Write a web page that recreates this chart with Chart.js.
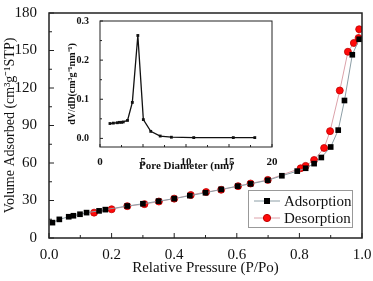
<!DOCTYPE html>
<html>
<head>
<meta charset="utf-8">
<script src="https://cdn.jsdelivr.net/npm/chart.js@4.4.1/dist/chart.umd.min.js"></script>
<style>
html, body { margin: 0; padding: 0; background: #fff; }
#wrap { position: relative; width: 373px; height: 281px; }
#main { position: absolute; left: 0; top: 0; }
#inset { position: absolute; left: 62px; top: 12px; }
</style>
</head>
<body>
<div id="wrap">
  <canvas id="main" width="373" height="281"></canvas>
  <canvas id="inset" width="218" height="165"></canvas>
</div>
<script>
// Isoterma de adsorción
const adsP = [0.011, 0.033, 0.063, 0.078, 0.099, 0.12, 0.16, 0.18, 0.25, 0.30, 0.35, 0.40, 0.45, 0.50, 0.55, 0.603, 0.644, 0.699, 0.744, 0.793, 0.82, 0.847, 0.87, 0.90, 0.924, 0.944, 0.969, 0.991];
const adsV = [12.3, 14.9, 17.0, 17.8, 19.0, 20.3, 21.7, 22.7, 25.6, 27.4, 29.5, 31.5, 33.9, 36.2, 38.9, 41.5, 43.3, 46.2, 49.8, 53.5, 55.8, 59.5, 64.4, 72.8, 86.3, 110, 146.6, 159];
// Isoterma de desorción
const desP = [0.991, 0.989, 0.974, 0.955, 0.929, 0.898, 0.879, 0.847, 0.82, 0.804, 0.699, 0.644, 0.604, 0.55, 0.502, 0.453, 0.40, 0.351, 0.305, 0.25, 0.20, 0.144];
const desV = [167, 160, 156, 149, 118, 85.5, 72, 62.4, 57.7, 55.8, 46.5, 43.6, 41.5, 38.6, 36.8, 34.4, 31.5, 29.2, 27.1, 25.5, 23.0, 20.3];
// Distribución de tamaño de poro (gráfica interior)
const poreD = [1.16, 1.55, 2.0, 2.25, 2.5, 2.7, 3.2, 3.76, 4.4, 5.04, 5.9, 7.0, 8.3, 10.9, 15.5, 18.0];
const poreDV = [0.038, 0.039, 0.040, 0.041, 0.041, 0.042, 0.046, 0.092, 0.263, 0.048, 0.018, 0.006, 0.003, 0.002, 0.002, 0.002];

const serif = "'Liberation Serif', 'Times New Roman', serif";

function toXY(xs, ys) {
    return xs.map((x, i) => ({ x: x, y: ys[i] }));
}

// Marco y marcas hacia dentro
const frameTicks = {
    id: 'frameTicks',
    afterDraw(chart, args, opts) {
        const ctx = chart.ctx;
        const a = chart.chartArea;
        const xs = chart.scales.x, ys = chart.scales.y;
        ctx.save();
        ctx.strokeStyle = '#222';
        ctx.lineWidth = opts.lw;
        ctx.strokeRect(a.left, a.top, a.right - a.left, a.bottom - a.top);
        ctx.lineWidth = 1;
        ctx.beginPath();
        xs.ticks.forEach((t, i) => {
            const px = xs.getPixelForValue(t.value);
            ctx.moveTo(px, a.bottom); ctx.lineTo(px, a.bottom - opts.major);
            if (i < xs.ticks.length - 1) {
                const m = xs.getPixelForValue((t.value + xs.ticks[i + 1].value) / 2);
                ctx.moveTo(m, a.bottom); ctx.lineTo(m, a.bottom - opts.minor);
            }
        });
        ys.ticks.forEach((t, i) => {
            const py = ys.getPixelForValue(t.value);
            ctx.moveTo(a.left, py); ctx.lineTo(a.left + opts.major, py);
            if (i < ys.ticks.length - 1) {
                const m = ys.getPixelForValue((t.value + ys.ticks[i + 1].value) / 2);
                ctx.moveTo(a.left, m); ctx.lineTo(a.left + opts.minor, m);
            }
        });
        ctx.stroke();
        ctx.restore();
    }
};

// Leyenda dentro del área del gráfico
const boxLegend = {
    id: 'boxLegend',
    afterDraw(chart, args, opts) {
        if (!opts.show) return;
        const ctx = chart.ctx;
        const a = chart.chartArea;
        const w = 104, h = 37;
        const x0 = a.right - 10 - w, y0 = a.bottom - 11 - h;
        ctx.save();
        ctx.fillStyle = '#fff';
        ctx.fillRect(x0, y0, w, h);
        ctx.strokeStyle = '#999';
        ctx.lineWidth = 1;
        ctx.strokeRect(x0 + 0.5, y0 + 0.5, w, h);
        chart.data.datasets.forEach((ds, i) => {
            const cy = y0 + 11 + i * 17;
            ctx.strokeStyle = ds.borderColor;
            ctx.lineWidth = 1;
            ctx.beginPath();
            ctx.moveTo(x0 + 6, cy); ctx.lineTo(x0 + 32, cy);
            ctx.stroke();
            ctx.fillStyle = ds.pointBackgroundColor;
            ctx.strokeStyle = ds.pointBorderColor;
            if (ds.pointStyle === 'rect') {
                ctx.fillRect(x0 + 16, cy - 3, 6, 6);
            } else {
                ctx.beginPath();
                ctx.arc(x0 + 19, cy, 3.6, 0, Math.PI * 2);
                ctx.fill();
                ctx.stroke();
            }
            ctx.fillStyle = '#111';
            ctx.font = '15px ' + serif;
            ctx.textBaseline = 'middle';
            ctx.fillText(ds.label, x0 + 36, cy + 1);
        });
        ctx.restore();
    }
};

Chart.register(frameTicks, boxLegend);

new Chart(document.getElementById('main'), {
    type: 'line',
    data: {
        datasets: [{
            label: 'Adsorption',
            data: toXY(adsP, adsV),
            borderColor: '#8c9ea6',
            borderWidth: 1,
            pointStyle: 'rect',
            pointRadius: 4,
            pointBackgroundColor: '#000',
            pointBorderColor: '#000',
            pointBorderWidth: 0,
            tension: 0
        }, {
            label: 'Desorption',
            data: toXY(desP, desV),
            borderColor: '#dca2aa',
            borderWidth: 1,
            pointStyle: 'circle',
            pointRadius: 3.5,
            pointBackgroundColor: '#ff0a0a',
            pointBorderColor: '#c00000',
            pointBorderWidth: 0.8,
            tension: 0
        }]
    },
    options: {
        responsive: false,
        animation: false,
        layout: { padding: { top: 0, right: 11 } },
        plugins: {
            legend: { display: false },
            tooltip: { enabled: false },
            frameTicks: { lw: 1.5, major: 5, minor: 3 },
            boxLegend: { show: true }
        },
        scales: {
            x: {
                type: 'linear',
                min: 0, max: 1,
                grid: { display: false },
                border: { display: false },
                afterFit: (s) => { s.height = 43; },
                ticks: {
                    stepSize: 0.2,
                    color: '#111',
                    padding: 0,
                    font: { family: serif, size: 15 },
                    callback: (v) => v.toFixed(1)
                },
                title: {
                    display: true,
                    text: 'Relative Pressure (P/Po)',
                    color: '#111',
                    padding: { top: 3 },
                    font: { family: serif, size: 15 }
                }
            },
            y: {
                min: 0, max: 180,
                grid: { display: false },
                border: { display: false },
                afterFit: (s) => { s.width = 49; },
                ticks: {
                    stepSize: 30,
                    color: '#111',
                    padding: 4,
                    font: { family: serif, size: 15 }
                },
                title: {
                    display: true,
                    text: 'Volume Adsorbed (cm³g⁻¹STP)',
                    color: '#111',
                    padding: { top: 2, bottom: 0 },
                    font: { family: serif, size: 14 }
                }
            }
        }
    }
});

new Chart(document.getElementById('inset'), {
    type: 'line',
    data: {
        datasets: [{
            label: 'PSD',
            data: toXY(poreD, poreDV),
            borderColor: '#111',
            borderWidth: 1.3,
            pointStyle: 'rect',
            pointRadius: 2,
            pointBackgroundColor: '#111',
            pointBorderWidth: 0,
            tension: 0
        }]
    },
    options: {
        responsive: false,
        animation: false,
        layout: { padding: { top: 8, right: 8 } },
        plugins: {
            legend: { display: false },
            tooltip: { enabled: false },
            frameTicks: { lw: 1, major: 3, minor: 2 },
            boxLegend: { show: false }
        },
        scales: {
            x: {
                type: 'linear',
                min: 0, max: 20,
                grid: { display: false },
                border: { display: false },
                afterFit: (s) => { s.height = 30; },
                ticks: {
                    stepSize: 5,
                    color: '#111',
                    padding: 1,
                    font: { family: serif, size: 11, weight: 'bold' }
                },
                title: {
                    display: true,
                    text: 'Pore Diameter (nm)',
                    color: '#111',
                    padding: { top: 0 },
                    font: { family: serif, size: 11, weight: 'bold' }
                }
            },
            y: {
                min: -0.022, max: 0.3,
                grid: { display: false },
                border: { display: false },
                afterFit: (s) => { s.width = 38; },
                afterBuildTicks: (s) => {
                    s.ticks = [0, 0.1, 0.2, 0.3].map((v) => ({ value: v }));
                },
                ticks: {
                    color: '#111',
                    padding: 3,
                    font: { family: serif, size: 10, weight: 'bold' },
                    callback: (v) => v.toFixed(1)
                },
                title: {
                    display: true,
                    text: 'dV/dD(cm³g⁻¹nm⁻¹)',
                    color: '#111',
                    padding: { bottom: 0 },
                    font: { family: serif, size: 10, weight: 'bold' }
                }
            }
        }
    }
});
</script>
</body>
</html>
